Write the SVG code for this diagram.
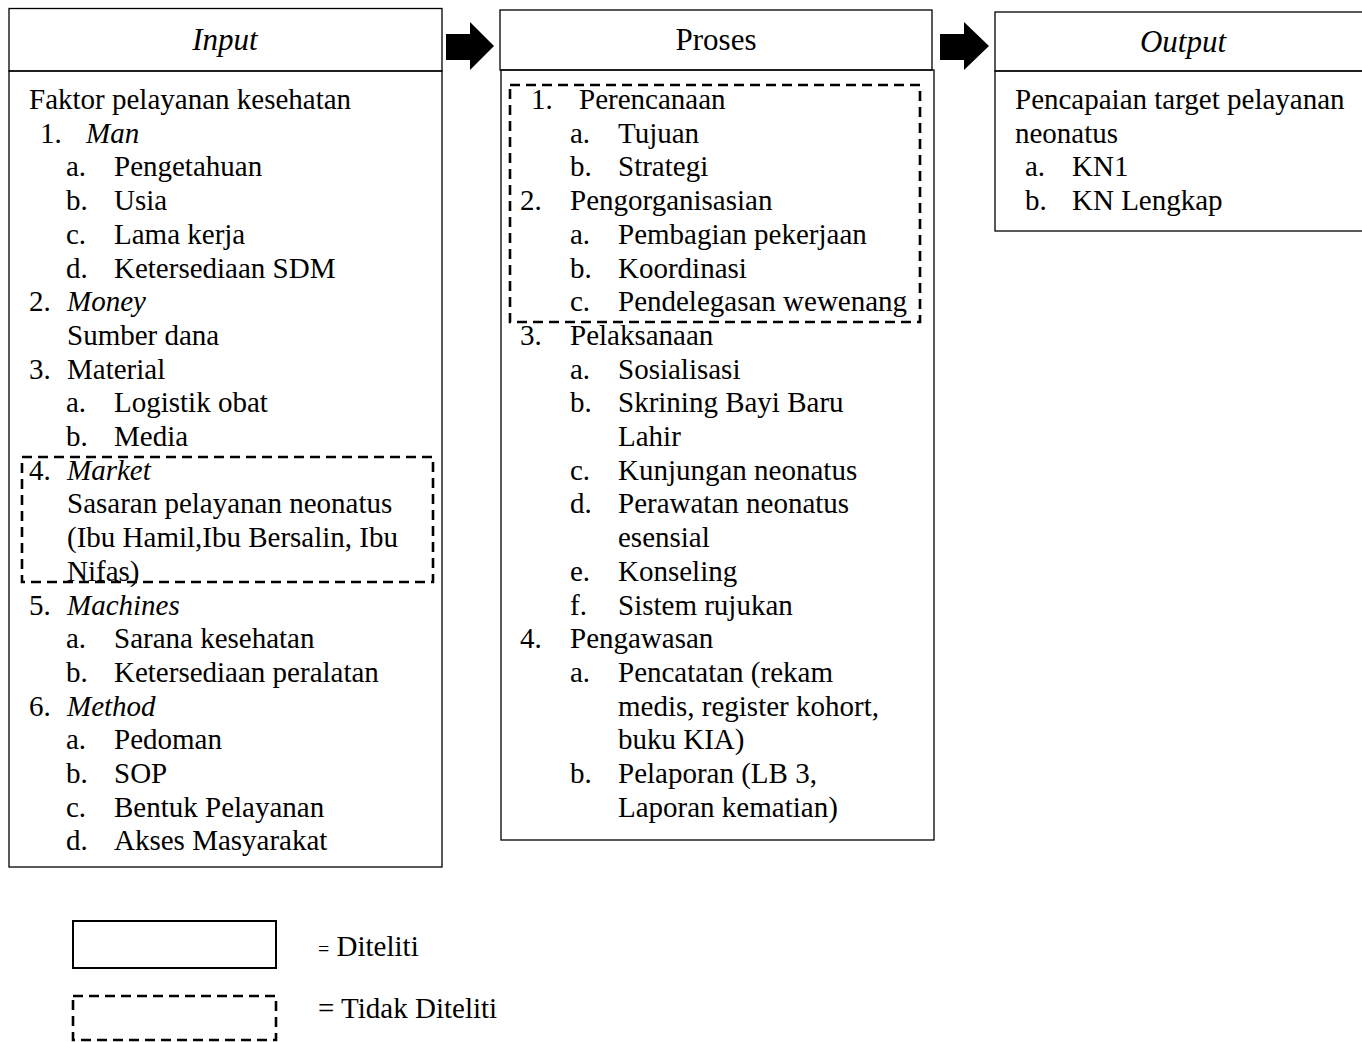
<svg xmlns="http://www.w3.org/2000/svg" width="1362" height="1042" viewBox="0 0 1362 1042">
<style>
text{font-family:"Liberation Serif","Times New Roman",serif;font-size:29px;fill:#000}
.i{font-style:italic}
.h{font-size:31px}
.box{fill:none;stroke:#000;stroke-width:1.3}
.dash{fill:none;stroke:#000;stroke-width:2.6;stroke-dasharray:10 6}
.arr{fill:#000}
</style>
<rect width="1362" height="1042" fill="#fff"/>
<g id="input">
<rect class="box" x="9" y="8.5" width="433" height="62.5"/>
<rect class="box" x="9" y="71" width="433" height="796"/>
<text class="i h" x="225" y="50" text-anchor="middle">Input</text>
<text x="29" y="109">Faktor pelayanan kesehatan</text>
<text x="40" y="142.7">1.</text><text class="i" x="86" y="142.7">Man</text>
<text x="66" y="176.4">a.</text><text x="114" y="176.4">Pengetahuan</text>
<text x="66" y="210.1">b.</text><text x="114" y="210.1">Usia</text>
<text x="66" y="243.8">c.</text><text x="114" y="243.8">Lama kerja</text>
<text x="66" y="277.5">d.</text><text x="114" y="277.5">Ketersediaan SDM</text>
<text x="29" y="311.2">2.</text><text class="i" x="67" y="311.2">Money</text>
<text x="67" y="344.9">Sumber dana</text>
<text x="29" y="378.6">3.</text><text x="67" y="378.6">Material</text>
<text x="66" y="412.3">a.</text><text x="114" y="412.3">Logistik obat</text>
<text x="66" y="446">b.</text><text x="114" y="446">Media</text>
<text x="29" y="479.7">4.</text><text class="i" x="67" y="479.7">Market</text>
<text x="67" y="513.4">Sasaran pelayanan neonatus</text>
<text x="67" y="547.1">(Ibu Hamil,Ibu Bersalin, Ibu</text>
<text x="67" y="580.8">Nifas)</text>
<text x="29" y="614.5">5.</text><text class="i" x="67" y="614.5">Machines</text>
<text x="66" y="648.2">a.</text><text x="114" y="648.2">Sarana kesehatan</text>
<text x="66" y="681.9">b.</text><text x="114" y="681.9">Ketersediaan peralatan</text>
<text x="29" y="715.6">6.</text><text class="i" x="67" y="715.6">Method</text>
<text x="66" y="749.3">a.</text><text x="114" y="749.3">Pedoman</text>
<text x="66" y="783">b.</text><text x="114" y="783">SOP</text>
<text x="66" y="816.7">c.</text><text x="114" y="816.7">Bentuk Pelayanan</text>
<text x="66" y="850.4">d.</text><text x="114" y="850.4">Akses Masyarakat</text>
<rect class="dash" x="22" y="457" width="411" height="125"/>
</g>
<g id="proses">
<rect class="box" x="500" y="10" width="432" height="60"/>
<rect class="box" x="501" y="70" width="433" height="770"/>
<text class="h" x="716" y="50" text-anchor="middle">Proses</text>
<text x="531" y="109">1.</text><text x="579" y="109">Perencanaan</text>
<text x="570" y="142.7">a.</text><text x="618" y="142.7">Tujuan</text>
<text x="570" y="176.4">b.</text><text x="618" y="176.4">Strategi</text>
<text x="520" y="210.1">2.</text><text x="570" y="210.1">Pengorganisasian</text>
<text x="570" y="243.8">a.</text><text x="618" y="243.8">Pembagian pekerjaan</text>
<text x="570" y="277.5">b.</text><text x="618" y="277.5">Koordinasi</text>
<text x="570" y="311.2">c.</text><text x="618" y="311.2">Pendelegasan wewenang</text>
<text x="520" y="344.9">3.</text><text x="570" y="344.9">Pelaksanaan</text>
<text x="570" y="378.6">a.</text><text x="618" y="378.6">Sosialisasi</text>
<text x="570" y="412.3">b.</text><text x="618" y="412.3">Skrining Bayi Baru</text>
<text x="618" y="446">Lahir</text>
<text x="570" y="479.7">c.</text><text x="618" y="479.7">Kunjungan neonatus</text>
<text x="570" y="513.4">d.</text><text x="618" y="513.4">Perawatan neonatus</text>
<text x="618" y="547.1">esensial</text>
<text x="570" y="580.8">e.</text><text x="618" y="580.8">Konseling</text>
<text x="570" y="614.5">f.</text><text x="618" y="614.5">Sistem rujukan</text>
<text x="520" y="648.2">4.</text><text x="570" y="648.2">Pengawasan</text>
<text x="570" y="681.9">a.</text><text x="618" y="681.9">Pencatatan (rekam</text>
<text x="618" y="715.6">medis, register kohort,</text>
<text x="618" y="749.3">buku KIA)</text>
<text x="570" y="783">b.</text><text x="618" y="783">Pelaporan (LB 3,</text>
<text x="618" y="816.7">Laporan kematian)</text>
<rect class="dash" x="510" y="85" width="410" height="237"/>
</g>
<g id="output">
<rect class="box" x="995" y="12" width="380" height="59"/>
<rect class="box" x="995" y="71" width="380" height="160"/>
<text class="i h" x="1183" y="52" text-anchor="middle">Output</text>
<text x="1015" y="109">Pencapaian target pelayanan</text>
<text x="1015" y="142.7">neonatus</text>
<text x="1025" y="176.4">a.</text><text x="1072" y="176.4">KN1</text>
<text x="1025" y="210.1">b.</text><text x="1072" y="210.1">KN Lengkap</text>
</g>
<g id="connectors">
<polygon class="arr" points="446,34 470,34 470,22 494,46 470,70 470,60 446,60"/>
<polygon class="arr" points="940,34 964,34 964,22 989,46 964,70 964,60 940,60"/>
</g>
<g id="legend">
<rect x="73" y="921" width="203" height="47" fill="none" stroke="#000" stroke-width="2"/>
<text x="318" y="956"><tspan font-size="20">=</tspan> Diteliti</text>
<rect class="dash" x="73" y="996" width="203" height="44"/>
<text x="318" y="1018">= Tidak Diteliti</text>
</g>
</svg>
